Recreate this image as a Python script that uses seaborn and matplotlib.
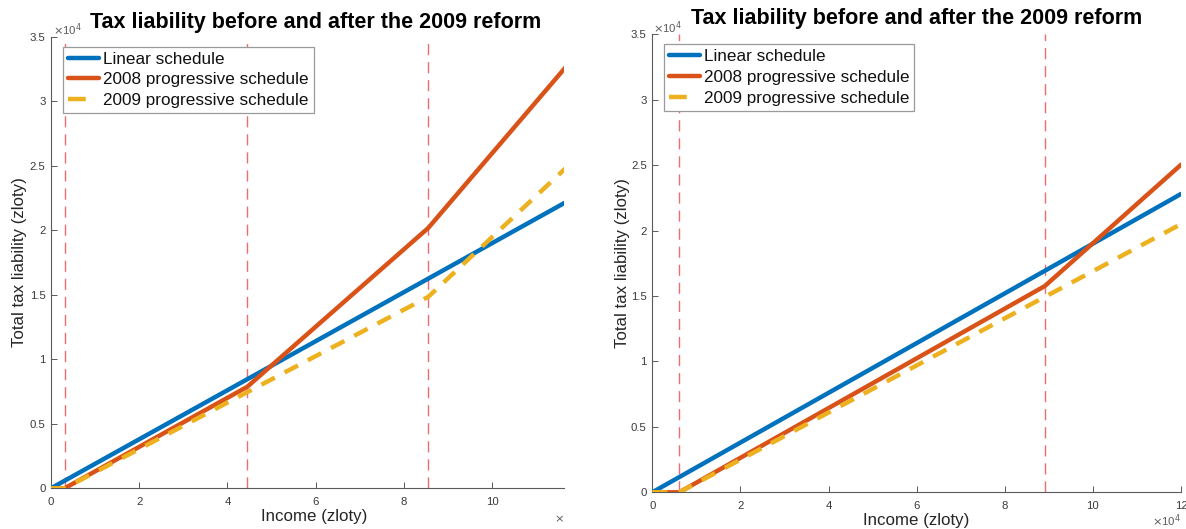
import matplotlib
matplotlib.use("Agg")
import matplotlib.pyplot as plt
from matplotlib.lines import Line2D
from matplotlib.transforms import Bbox
import seaborn as sns
import pandas as pd

# ---- data -------------------------------------------------------------
# Left panel: kink points of each schedule (income, tax), zloty
left_income = [0, 3091, 44490, 85528, 120000]
left_linear = [0, 587, 8453, 16250, 22800]
left_2008 = [0, 0, 7866, 20177, 33966]
left_2009 = [0, 0, 7452, 14839, 25870]
left_thresholds = [3091, 44490, 85528]

# Right panel
right_income = [0, 6130, 89100, 120000]
right_linear = [0, 1165, 16929, 22800]
right_2008 = [0, 0, 15764, 25034]
right_2009 = [0, 0, 14934, 20496]
right_thresholds = [6130, 89100]

series_labels = ["Linear schedule", "2008 progressive schedule", "2009 progressive schedule"]
x_ticks_left = [0, 2, 4, 6, 8, 10]
x_ticks_right = [0, 2, 4, 6, 8, 10, 12]
y_ticks = [0, 0.5, 1, 1.5, 2, 2.5, 3, 3.5]

# ---- style ------------------------------------------------------------
sns.set_theme(style="white")
plt.rcParams["font.family"] = ["Liberation Sans", "DejaVu Sans"]

BLUE = "#0072BD"
ORANGE = "#D95319"
YELLOW = "#EDB120"
VLINE = "#ee6b70"
AXC = "#5a5a5a"
YDASH = (0, (3.4, 2.5))

W, H = 1186, 529
fig = plt.figure(figsize=(W / 100, H / 100), dpi=100)


def axes_px(left, top, right, bottom):
    return fig.add_axes([left / W, 1 - bottom / H, (right - left) / W, (bottom - top) / H])


def draw_panel(ax, income, linear, s2008, s2009, thresholds, xmax, xticks):
    for xv in thresholds:
        ax.axvline(xv, color=VLINE, lw=1.0, linestyle=(0, (8, 5)), zorder=1)
    df = pd.DataFrame({"income": income, "linear": linear, "p2008": s2008, "p2009": s2009})
    sns.lineplot(data=df, x="income", y="linear", ax=ax, color=BLUE, lw=3.2, zorder=3)
    sns.lineplot(data=df, x="income", y="p2008", ax=ax, color=ORANGE, lw=3.2, zorder=4)
    sns.lineplot(data=df, x="income", y="p2009", ax=ax, color=YELLOW, lw=3.2,
                 linestyle=YDASH, dash_capstyle="butt", zorder=5)
    ax.set_xlim(0, xmax)
    ax.set_ylim(0, 35000)
    ax.set_xticks([t * 1e4 for t in xticks])
    ax.set_xticklabels([str(t) for t in xticks])
    ax.set_yticks([t * 1e4 for t in y_ticks])
    ax.set_yticklabels([f"{t:g}" for t in y_ticks])
    ax.set_xlabel("")
    ax.set_ylabel("")
    for side in ("top", "right"):
        ax.spines[side].set_visible(False)
    for side in ("left", "bottom"):
        ax.spines[side].set_color(AXC)
        ax.spines[side].set_linewidth(0.8)
    ax.tick_params(direction="in", length=4, width=0.7, color=AXC,
                   labelcolor="#3a3a3a", labelsize=8.2, bottom=True, left=True)
    ax.tick_params(axis="x", pad=6)
    ax.tick_params(axis="y", pad=4)
    ax.set_facecolor("white")


def add_legend(ax, box_left, box_top, ax_left, ax_top, ax_right, ax_bottom):
    handles = [
        Line2D([], [], color=BLUE, lw=3.2),
        Line2D([], [], color=ORANGE, lw=3.2),
        Line2D([], [], color=YELLOW, lw=3.2, linestyle=(0, (4.0, 10)), dash_capstyle="butt"),
    ]
    bx = (box_left - ax_left) / (ax_right - ax_left)
    by = (ax_bottom - box_top) / (ax_bottom - ax_top)
    leg = ax.legend(handles, series_labels, loc="upper left", bbox_to_anchor=(bx, by),
                    borderaxespad=0, frameon=True, fancybox=False, framealpha=1,
                    edgecolor="#9a9a9a", fontsize=12.3, handlelength=1.85,
                    handletextpad=0.2, borderpad=0.3, labelspacing=0.33)
    leg.get_frame().set_linewidth(0.9)
    for t in leg.get_texts():
        t.set_color("#111111")
    return leg


# left panel (canvas is cut at the right edge)
L = (51, 36.7, 564, 488.3)
axL = axes_px(*L)
draw_panel(axL, left_income, left_linear, left_2008, left_2009, left_thresholds, 116300, x_ticks_left)
add_legend(axL, 62.7, 46.7, *L)

# right panel
R = (652.3, 34.3, 1181, 492.3)
axR = axes_px(*R)
draw_panel(axR, right_income, right_linear, right_2008, right_2009, right_thresholds, 120000, x_ticks_right)
add_legend(axR, 663.5, 44.3, *R)

TITLE = "Tax liability before and after the 2009 reform"


def fx(px):
    return px / W


def fy(py):
    return 1 - py / H


# titles
fig.text(fx(316), fy(22.5), TITLE, ha="center", va="center", fontsize=15.5, fontweight="bold", color="black")
fig.text(fx(916.5), fy(18.5), TITLE, ha="center", va="center", fontsize=15.5, fontweight="bold", color="black")

# axis labels
fig.text(fx(314), fy(517), "Income (zloty)", ha="center", va="center", fontsize=12.2, color="#262626")
fig.text(fx(916.5), fy(520), "Income (zloty)", ha="center", va="center", fontsize=12.2, color="#262626")
fig.text(fx(20), fy(262.5), "Total tax liability (zloty)", ha="center", va="center", rotation=90,
         fontsize=12.2, color="#262626")
fig.text(fx(622), fy(263.3), "Total tax liability (zloty)", ha="center", va="center", rotation=90,
         fontsize=12.2, color="#262626")

# exponent multipliers
mult = r"$\times$10$^{4}$"
for x0, y0 in ((53, 30), (653, 27.5)):
    fig.text(fx(x0), fy(y0), mult, ha="left", va="center", fontsize=8.2, color="#5a5a5a",
             math_fontfamily="dejavusans")
fig.text(fx(1181), fy(521), mult, ha="right", va="center", fontsize=8.2, color="#5a5a5a",
         math_fontfamily="dejavusans")
t_cut = fig.text(fx(554), fy(518), mult, ha="left", va="center", fontsize=8.2, color="#5a5a5a",
                 math_fontfamily="dejavusans")
t_cut.set_clip_box(Bbox.from_extents(0, 0, 565, H))
t_cut.set_clip_on(True)

fig.savefig("out.png", dpi=100, facecolor="white")
